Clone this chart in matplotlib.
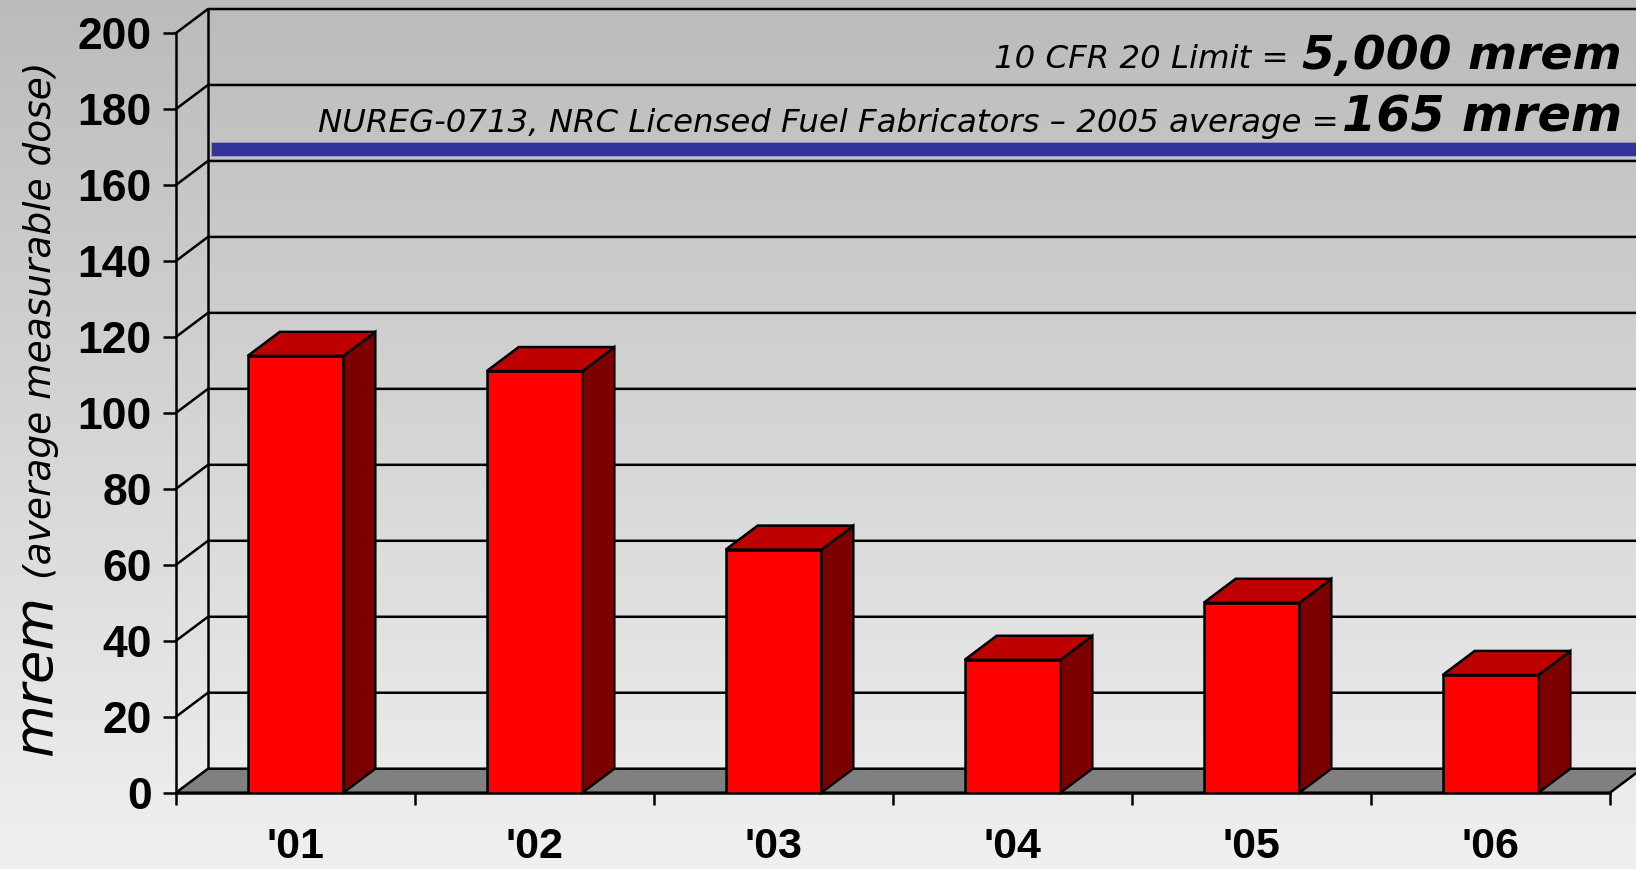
import numpy as np
import matplotlib
matplotlib.use("Agg")
import matplotlib.pyplot as plt
from matplotlib.patches import Polygon, Rectangle
from matplotlib.colors import LinearSegmentedColormap

# data
years = ["'01", "'02", "'03", "'04", "'05", "'06"]
dose = [115, 111, 64, 35, 50, 31]
y_ticks = list(range(0, 201, 20))
cfr_text = "10 CFR 20 Limit ="
cfr_value = "5,000 mrem"
nureg_text = "NUREG-0713, NRC Licensed Fuel Fabricators \u2013 2005 average ="
nureg_value = "165 mrem"
nureg_avg = 165

W, H = 1636, 869
fig = plt.figure(figsize=(W / 100, H / 100), dpi=100)


def px(x, y):
    # image pixels -> figure fraction
    return x / W, 1 - y / H


# gray gradient behind everything
bg = fig.add_axes([0, 0, 1, 1], zorder=-10)
grad = np.linspace(0, 1, 256).reshape(-1, 1)
cmap = LinearSegmentedColormap.from_list("bg", ["#bbbbbb", "#f0f0f0"])
bg.imshow(grad, aspect="auto", cmap=cmap, extent=[0, 1, 0, 1])
bg.axis("off")

# front plane of the 3d box
x0, x1 = 176, 1610
y0, y1 = 792.7, 33
ax = fig.add_axes([x0 / W, 1 - y0 / H, (x1 - x0) / W, (y0 - y1) / H])
ax.set_xlim(0, len(years))
ax.set_ylim(0, 200)
ax.patch.set_visible(False)

n = len(years)
DX = 32 / ((x1 - x0) / n)      # depth shift, category units
DY = 24 / ((y0 - y1) / 200)    # depth shift, mrem units
lw = 1.8

# floor
ax.add_patch(Polygon([(0, 0), (n, 0), (n + DX, DY), (DX, DY)], closed=True,
                     facecolor="#808080", edgecolor="black", lw=lw, zorder=2,
                     clip_on=False))

# gridlines on side and back walls
for v in y_ticks[1:]:
    ax.plot([0, DX, n + DX], [v, v + DY, v + DY], color="black", lw=lw,
            clip_on=False, zorder=1)
ax.plot([DX, DX], [DY, 200 + DY], color="black", lw=lw, clip_on=False, zorder=1)

# NUREG average band on the back wall
band = 3.6
ax.add_patch(Rectangle((DX + 0.012, nureg_avg - band + DY), n, band,
                       facecolor="#333399", edgecolor="#9999cc", lw=0.6,
                       clip_on=False, zorder=1.5))

# 3d bars
bw = 0.4
for i, v in enumerate(dose):
    l = i + 0.5 - bw / 2
    r = i + 0.5 + bw / 2
    ax.add_patch(Rectangle((l, 0), bw, v, facecolor="#ff0000",
                           edgecolor="black", lw=lw, zorder=3))
    ax.add_patch(Polygon([(r, 0), (r + DX, DY), (r + DX, v + DY), (r, v)],
                         facecolor="#7c0000", edgecolor="black", lw=lw,
                         zorder=3, clip_on=False))
    ax.add_patch(Polygon([(l, v), (r, v), (r + DX, v + DY), (l + DX, v + DY)],
                         facecolor="#bf0000", edgecolor="black", lw=lw,
                         zorder=3, clip_on=False))

# axes
for s in ["top", "right"]:
    ax.spines[s].set_visible(False)
for s in ["left", "bottom"]:
    ax.spines[s].set_linewidth(lw)
ax.set_yticks(y_ticks)
ax.set_yticklabels([str(t) for t in y_ticks], fontsize=32, fontweight="bold",
                   family="Liberation Sans")
ax.tick_params(axis="y", direction="out", length=9.4, width=lw, pad=8)
ax.set_xticks(range(n + 1))
ax.set_xticklabels([])
ax.set_xticks(np.arange(n) + 0.5, minor=True)
ax.set_xticklabels(years, minor=True, fontsize=31, fontweight="bold",
                   family="Liberation Sans")
ax.tick_params(axis="x", which="major", direction="out", length=8.6, width=lw)
ax.tick_params(axis="x", which="minor", length=0, pad=25)

# limit annotations, big bold value then small italic lead-in
t1 = fig.text(*px(1622, 68.5), cfr_value, ha="right", va="baseline",
              fontsize=34, fontweight="bold", style="italic")
t2 = fig.text(*px(1622, 132), nureg_value, ha="right", va="baseline",
              fontsize=35.5, fontweight="bold", style="italic")
fig.canvas.draw()
bb1 = t1.get_window_extent()
bb2 = t2.get_window_extent()
fig.text((bb1.x0 - 14) / W, 1 - 68.5 / H, cfr_text, ha="right", va="baseline",
         fontsize=23.3, style="italic")
fig.text((bb2.x0 - 3) / W, 1 - 132 / H, nureg_text, ha="right", va="baseline",
         fontsize=23.3, style="italic")

# y axis title
fig.text(*px(51, 756), "mrem", rotation=90, rotation_mode="anchor",
         ha="left", va="baseline", fontsize=39, style="italic")
fig.text(*px(51, 579), "(average measurable dose)", rotation=90,
         rotation_mode="anchor", ha="left", va="baseline", fontsize=27,
         style="italic")

fig.savefig("out.png", dpi=100)
